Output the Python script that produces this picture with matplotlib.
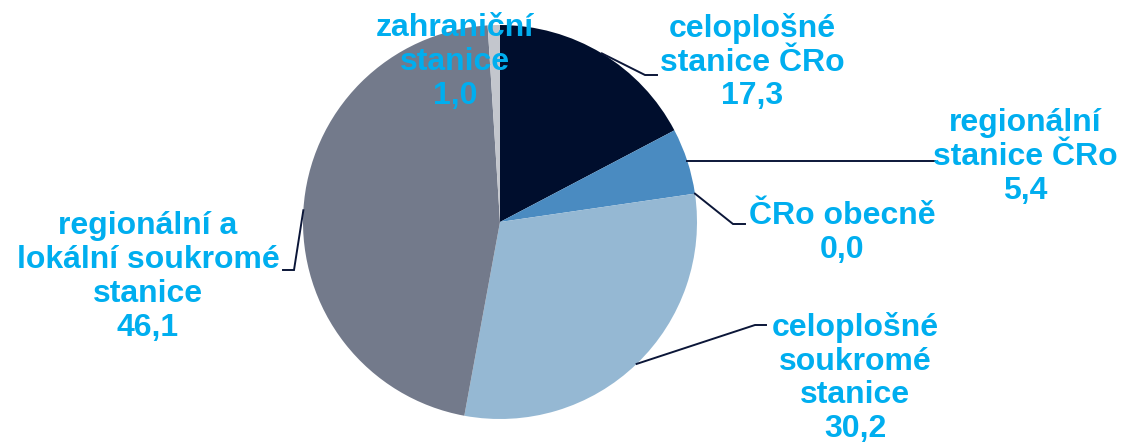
import numpy as np
import matplotlib
matplotlib.use("Agg")
import matplotlib.pyplot as plt

W, H = 1121, 443

# ── Data ──────────────────────────────────────────────────────────────────────
categories = ["celoplošné\nstanice ČRo", "regionální\nstanice ČRo", "ČRo obecně",
              "celoplošné\nsoukromé\nstanice", "regionální a\nlokální soukromé\nstanice",
              "zahraniční\nstanice"]
shares = [17.3, 5.4, 0.0, 30.2, 46.1, 1.0]
colors = ["#000E2D", "#4A8BC1", "#7F8FA6", "#95B8D3", "#737A8B", "#C3C6CD"]

TEXT_COLOR = "#00AEEF"
LINE_COLOR = "#0B1638"

# ── Layout (pixel coords, y from top) ─────────────────────────────────────────
CENTER = (500, 222)
RADIUS = 197
label_pos = [(752, 62), (1025, 157), (842, 233), (855, 378), (148, 277), (455, 62)]
# elbow + end of leader lines; None = no leader ("h" = horizontal from wedge)
leader = [((645, 75), (657, 75)),
          "h",
          ((733, 224), (745, 224)),
          ((755, 325), (766, 325)),
          ((294, 270), (283, 270)),
          None]
H_LEADER_END = 935


def to_data(p):
    return (p[0], H - p[1])


fig = plt.figure(figsize=(W / 100, H / 100), dpi=100)
ax = fig.add_axes([0, 0, 1, 1])

cx, cy = to_data(CENTER)
wedges, _ = ax.pie(shares, colors=colors, startangle=90, counterclock=False,
                   center=(cx, cy), radius=RADIUS, frame=True,
                   wedgeprops=dict(linewidth=0))
ax.set_xlim(0, W)
ax.set_ylim(0, H)
ax.set_aspect("equal")
ax.axis("off")

# leader lines from the middle of each wedge's arc
total = sum(shares)
cum = np.cumsum([0] + shares)
for i, ld in enumerate(leader):
    if ld is None:
        continue
    mid = 90 - 360 * (cum[i] + shares[i] / 2) / total
    px = cx + RADIUS * np.cos(np.radians(mid))
    py = cy + RADIUS * np.sin(np.radians(mid))
    if ld == "h":
        xs, ys = [px, H_LEADER_END], [py, py]
    else:
        e1 = to_data(ld[0])
        e2 = to_data(ld[1])
        xs, ys = [px, e1[0], e2[0]], [py, e1[1], e2[1]]
    ax.plot(xs, ys, color=LINE_COLOR, linewidth=1.4,
            solid_joinstyle="miter", zorder=3)

for cat, val, pos in zip(categories, shares, label_pos):
    x, y = to_data(pos)
    txt = f"{cat}\n{val:.1f}".replace(".", ",")
    ax.text(x, y, txt, ha="center", va="center", multialignment="center",
            color=TEXT_COLOR, fontsize=23, fontweight="bold",
            family=["Liberation Sans", "DejaVu Sans"], linespacing=1.17, zorder=4)

fig.savefig("out.png", dpi=100)
